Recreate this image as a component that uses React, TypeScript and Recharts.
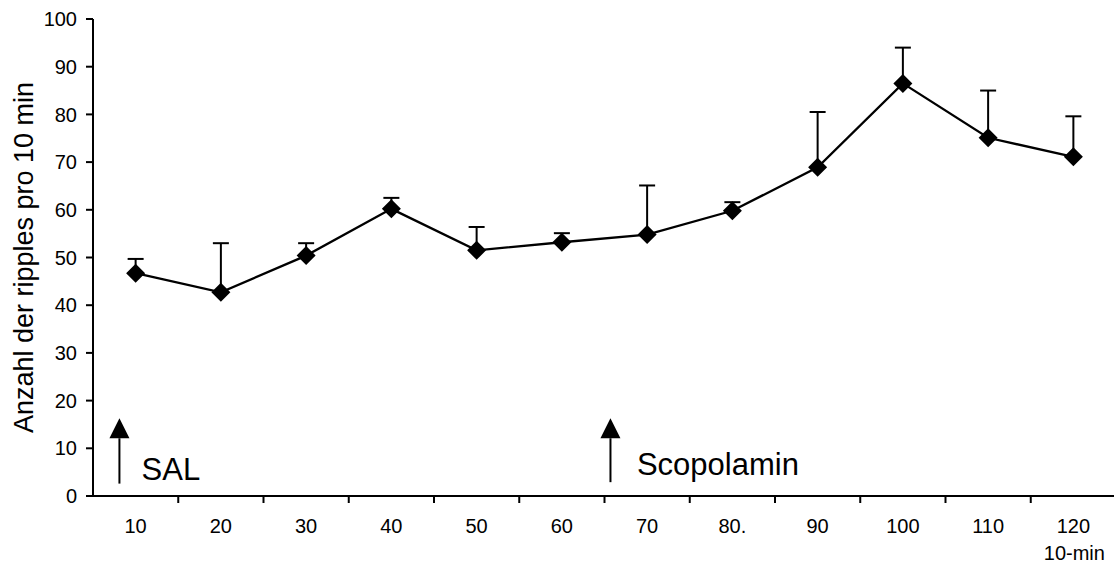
import { ComposedChart, Line, XAxis, YAxis, ErrorBar, ReferenceLine, ReferenceDot } from "recharts";

const timeLabels = ["10", "20", "30", "40", "50", "60", "70", "80.", "90", "100", "110", "120"];
const meanRipples = [46.7, 42.7, 50.4, 60.2, 51.5, 53.2, 54.8, 59.8, 68.9, 86.5, 75.1, 71.1];
const errorUp = [3.0, 10.3, 2.6, 2.3, 4.9, 1.9, 10.3, 1.8, 11.6, 7.5, 9.9, 8.5];
const yTicks = [0, 10, 20, 30, 40, 50, 60, 70, 80, 90, 100];
const yTitle = "Anzahl der ripples pro 10 min";
const xUnit = "10-min";

// injection arrows, in axis units (x = slot position, y = ripple count)
const injections = [
  { label: "SAL", x: 0.31, from: 2.6, to: 16.3, textX: 0.57, textY: 3.4 },
  { label: "Scopolamin", x: 6.07, from: 2.9, to: 16.3, textX: 6.38, textY: 4.5 },
];

const data = timeLabels.map((label, i) => ({
  slot: i + 0.5,
  label,
  mean: meanRipples[i],
  err: [0, errorUp[i]],
}));

const FONT = "'Liberation Sans', Arial, Helvetica, sans-serif";
const CHART_W = 1130;
const CHART_H = 563;
const MARGIN = { top: 19, right: 14, left: 0, bottom: 0 };
const YAXIS_W = 93;
const XAXIS_H = 67;
const HALF_BAND = (CHART_W - YAXIS_W - MARGIN.right - MARGIN.left) / timeLabels.length / 2;

function XTick(props: any) {
  const { x, y, payload } = props;
  const i = Math.round(payload.value - 0.5);
  const axisY = y - 7;
  return (
    <g>
      <line x1={x + HALF_BAND} x2={x + HALF_BAND} y1={axisY} y2={axisY + 7} stroke="#000" strokeWidth={2} />
      <text x={x} y={y + 15.4} dy="0.71em" textAnchor="middle" fontSize={20} fontFamily={FONT} fill="#000">
        {timeLabels[i]}
      </text>
      {i === timeLabels.length - 1 && (
        <text x={x + 1} y={y + 43} dy="0.71em" textAnchor="middle" fontSize={20} fontFamily={FONT} fill="#000">
          {xUnit}
        </text>
      )}
    </g>
  );
}

function Diamond(p: any) {
  const { cx, cy, index } = p;
  const r = 9.5;
  return (
    <path key={`dia-${index}`} d={`M${cx},${cy - r}L${cx + r},${cy}L${cx},${cy + r}L${cx - r},${cy}Z`} fill="#000" />
  );
}

function Arrow(p: any) {
  const { x1, y1, x2, y2 } = p;
  const head = 20;
  return (
    <g>
      <line x1={x1} x2={x2} y1={y1} y2={y2 + head} stroke="#000" strokeWidth={2} />
      <path d={`M${x2},${y2}L${x2 + 10},${y2 + head}L${x2 - 10},${y2 + head}Z`} fill="#000" />
    </g>
  );
}

function YTitle(p: any) {
  const vb = p.viewBox;
  const cx = 33;
  const cy = vb.y + vb.height / 2;
  return (
    <text x={cx} y={cy} transform={`rotate(-90, ${cx}, ${cy})`} textAnchor="middle" fontSize={27} fontFamily={FONT} fill="#000">
      {yTitle}
    </text>
  );
}

export default function App() {
  return (
    <div style={{ position: "absolute", left: 0, top: 0, width: 1114, height: 563, overflow: "hidden", background: "#fff" }}>
      <ComposedChart width={CHART_W} height={CHART_H} data={data} margin={MARGIN}>
        <XAxis
          type="number"
          dataKey="slot"
          domain={[0, timeLabels.length]}
          ticks={data.map((d) => d.slot)}
          interval={0}
          height={XAXIS_H}
          tickLine={false}
          tickSize={7}
          tickMargin={0}
          tick={<XTick />}
          axisLine={{ stroke: "#000", strokeWidth: 2 }}
        />
        <YAxis
          type="number"
          domain={[0, 100]}
          ticks={yTicks}
          interval={0}
          width={YAXIS_W}
          tickSize={7}
          tickMargin={9}
          axisLine={{ stroke: "#000", strokeWidth: 2 }}
          tickLine={{ stroke: "#000", strokeWidth: 2 }}
          tick={{ fill: "#000", fontSize: 20, fontFamily: FONT }}
          label={<YTitle />}
        />
        {injections.map((a) => (
          <ReferenceLine
            key={a.label}
            segment={[
              { x: a.x, y: a.from },
              { x: a.x, y: a.to },
            ]}
            shape={Arrow}
          />
        ))}
        {injections.map((a) => (
          <ReferenceDot
            key={`t-${a.label}`}
            x={a.textX}
            y={a.textY}
            r={0}
            shape={(p: any) => (
              <text x={p.cx} y={p.cy} fontSize={31} fontFamily={FONT} fill="#000">
                {a.label}
              </text>
            )}
          />
        ))}
        {/* error bars on an invisible line so the diamonds cover the lower caps */}
        <Line
          type="linear"
          dataKey="mean"
          stroke="none"
          dot={false}
          activeDot={false}
          legendType="none"
          isAnimationActive={false}
        >
          <ErrorBar dataKey="err" direction="y" width={8} strokeWidth={2} stroke="#000" isAnimationActive={false} />
        </Line>
        <Line
          type="linear"
          dataKey="mean"
          stroke="#000"
          strokeWidth={2.3}
          dot={Diamond}
          activeDot={false}
          isAnimationActive={false}
        />
      </ComposedChart>
    </div>
  );
}
